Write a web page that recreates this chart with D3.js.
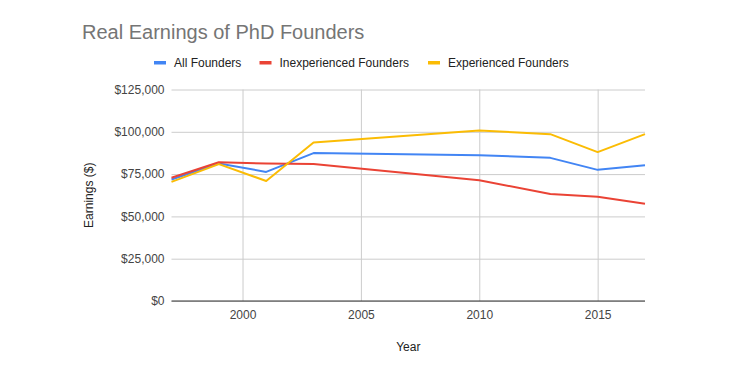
<!DOCTYPE html>
<html><head><meta charset="utf-8">
<script src="https://cdn.jsdelivr.net/npm/d3@7"></script>
<style>html,body{margin:0;padding:0;background:#fff;}svg{display:block;}</style>
</head><body>
<script>
const years = [1997, 1999, 2001, 2003, 2010, 2013, 2015, 2017];
const allFounders = [71800, 81300, 76300, 87400, 86200, 84600, 77500, 80300];
const inexperiencedFounders = [72800, 82000, 81200, 80900, 71400, 63200, 61600, 57500];
const experiencedFounders = [70400, 80900, 70900, 93700, 100800, 98600, 88000, 98600];
const seriesNames = ["All Founders", "Inexperienced Founders", "Experienced Founders"];
const seriesColors = ["#4285F4", "#EA4335", "#FBBC04"];
const yTicks = [0, 25000, 50000, 75000, 100000, 125000];
const xTicks = [2000, 2005, 2010, 2015];

const W = 735, H = 369;
const m = {left: 171.5, right: 735 - 645, top: 89.5, bottom: 369 - 301};
const svg = d3.select("body").append("svg").attr("width", W).attr("height", H)
  .style("font-family", "'Liberation Sans', Arial, sans-serif");

const x = d3.scaleLinear().domain([1997, 2017]).range([m.left, W - m.right]);
const y = d3.scaleLinear().domain([0, 125000]).range([H - m.bottom, m.top]);

// title
svg.append("text").attr("x", 82).attr("y", 38.5).attr("font-size", 20).attr("fill", "#757575")
  .text("Real Earnings of PhD Founders");

// legend
const legendX = [154, 259.5, 428];
seriesNames.forEach((n, i) => {
  const g = svg.append("g");
  g.append("rect").attr("x", legendX[i]).attr("y", 61).attr("width", 12).attr("height", 3.5).attr("fill", seriesColors[i]);
  g.append("text").attr("x", legendX[i] + 20).attr("y", 67).attr("font-size", 12).attr("fill", "#222").text(n);
});

// grid
const fmt = d => "$" + d3.format(",")(d);
const yAxis = svg.append("g").attr("transform", `translate(${m.left},0)`)
  .call(d3.axisLeft(y).tickValues(yTicks).tickFormat(fmt).tickSize(-(W - m.left - m.right)).tickPadding(7));
yAxis.select(".domain").remove();
yAxis.selectAll(".tick line").attr("stroke", "#cccccc");
yAxis.selectAll(".tick text").attr("font-size", 12).attr("fill", "#444").attr("font-family", "'Liberation Sans', Arial, sans-serif");

const xAxis = svg.append("g").attr("transform", `translate(0,${H - m.bottom})`)
  .call(d3.axisBottom(x).tickValues(xTicks).tickFormat(d3.format("d")).tickSize(-(H - m.top - m.bottom)).tickPadding(9));
xAxis.select(".domain").remove();
xAxis.selectAll(".tick line").attr("stroke", "#cccccc");
xAxis.selectAll(".tick text").attr("font-size", 12).attr("fill", "#444").attr("font-family", "'Liberation Sans', Arial, sans-serif");

// baseline
svg.append("line").attr("x1", m.left).attr("x2", W - m.right).attr("y1", y(0)).attr("y2", y(0))
  .attr("stroke", "#333").attr("stroke-width", 1);

// lines
const data = [allFounders, inexperiencedFounders, experiencedFounders];
const line = d3.line().x((d, i) => x(years[i])).y(d => y(d));
data.forEach((s, i) => {
  svg.append("path").datum(s).attr("d", line).attr("fill", "none")
    .attr("stroke", seriesColors[i]).attr("stroke-width", 2).attr("stroke-linejoin", "round");
});

// axis titles
svg.append("text").attr("x", (m.left + W - m.right) / 2).attr("y", 351).attr("text-anchor", "middle")
  .attr("font-size", 12).attr("fill", "#222").text("Year");
svg.append("text").attr("transform", `translate(93,${(m.top + H - m.bottom) / 2}) rotate(-90)`)
  .attr("text-anchor", "middle").attr("font-size", 12).attr("fill", "#222").text("Earnings ($)");
</script>
</body></html>
